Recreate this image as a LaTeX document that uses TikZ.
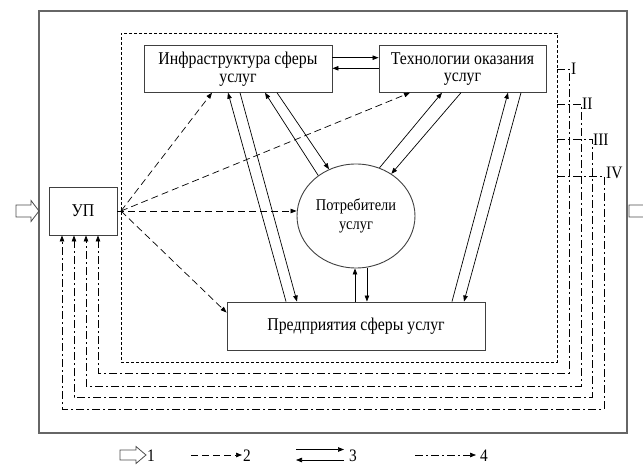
\documentclass[tikz,border=0pt]{standalone}
\usepackage{fontspec}
\setmainfont[FakeStretch=0.88]{Liberation Serif}
\usetikzlibrary{arrows.meta,shapes.geometric}
\begin{document}
\begin{tikzpicture}[x=1pt,y=-1pt,
  box/.style={draw=black!75, line width=0.9pt, inner sep=0pt, align=center, font=\fontsize{18}{17.7}\selectfont},
  link/.style={line width=0.7pt, -{Triangle[length=6pt,width=4.5pt]}},
  dlink/.style={link, dash pattern=on 7pt off 4pt},
  ddlink/.style={link, dash pattern=on 8pt off 3pt on 2pt off 3pt},
  hollow/.style={draw=black!70, line width=0.8pt},
  lbl/.style={font=\fontsize{17.5}{17}\selectfont, inner sep=0pt, anchor=west}
]
\useasboundingbox (0,0) rectangle (643,465);
\clip (0,0) rectangle (643,465);

% outer frame
\draw[draw=black!60, line width=1.2pt] (39,11) rectangle (627,433);
% inner dashed zone
\node[draw, dash pattern=on 3pt off 2pt, line width=0.7pt, minimum width=436pt, minimum height=329pt, inner sep=0pt] (zone) at (339,197.5) {};

% nodes
\node[box, minimum width=188pt, minimum height=46.5pt] (infra) at (238,69) {Инфраструктура сферы\\услуг};
\node[box, minimum width=167pt, minimum height=46.5pt] (tech) at (462.5,69) {Технологии оказания\\услуг};
\node[box, minimum width=68pt, minimum height=48pt] (up) at (83,211) {УП};
\node[box, ellipse, minimum width=118pt, minimum height=104pt, font=\fontsize{16.4}{18.4}\selectfont] (circ) at (356,216) {Потребители\\услуг};
\node[box, minimum width=258pt, minimum height=48pt] (ent) at (356,326) {Предприятия сферы услуг};

% solid two-way links
\draw[link] ([yshift=11.3pt]infra.east) -- ([yshift=11.3pt]tech.west);
\draw[link] ([yshift=0.7pt]tech.west) -- ([yshift=0.7pt]infra.east);
\draw[link] ([xshift=-70pt]ent.north) -- ([xshift=-10pt]infra.south);
\draw[link] ([xshift=2pt]infra.south) -- ([xshift=-59pt]ent.north);
\draw[link] (circ.133) -- ([xshift=27pt]infra.south);
\draw[link] ([xshift=39pt]infra.south) -- (circ.120);
\draw[link] (circ.64) -- ([xshift=-20.5pt]tech.south);
\draw[link] ([xshift=-1.5pt]tech.south) -- (circ.50);
\draw[link] ([xshift=96pt]ent.north) -- ([xshift=45.5pt]tech.south);
\draw[link] ([xshift=58.5pt]tech.south) -- ([xshift=108pt]ent.north);
\draw[link] ([xshift=-1pt]ent.north) -- ([xshift=-1pt]circ.south);
\draw[link] (circ.-78) -- (circ.-78 |- ent.north);

% dashed control links
\coordinate (fan) at (121,211);
\draw[dlink] (up.east) -- (circ.west |- up.east);
\draw[dlink] (fan) -- ([xshift=-26pt]infra.south);
\draw[dlink] (fan) -- ([xshift=-52.5pt]tech.south);
\draw[dlink] (fan) -- ([yshift=-11pt]ent.north west);

% feedback loops
\coordinate (sI) at (557,69);
\coordinate (sII) at (557,104);
\coordinate (sIII) at (557,139);
\coordinate (sIV) at (557,176);
\draw[ddlink] (sI) -| (569,373) -| ([xshift=15pt]up.south);
\draw[ddlink] (sII) -| (581,386) -| ([xshift=3pt]up.south);
\draw[ddlink] (sIII) -| (592,397) -| ([xshift=-9pt]up.south);
\draw[ddlink] (sIV) -| (604,409) -| ([xshift=-21pt]up.south);
\node[lbl] (lI) at (571,68.5) {I};
\node[lbl] (lII) at (582,103.5) {II};
\node[lbl] (lIII) at (593,139.5) {III};
\node[lbl] (lIV) at (606,172.5) {IV};

% input / output hollow arrows
\draw[hollow] (16,205) -- (31,205) -- (31,200.5) -- (39,211) -- (31,221.5) -- (31,217) -- (16,217) -- cycle;
\draw[hollow] (629,205) -- (660,205) -- (660,200.5) -- (668,211) -- (660,221.5) -- (660,217) -- (629,217) -- cycle;

% legend
\draw[hollow] (120,450) -- (136,450) -- (136,446.5) -- (146,455) -- (136,463.5) -- (136,460) -- (120,460) -- cycle;
\node[lbl] (k1) at (147,456) {1};
\draw[dlink] (191,455) -- (242,455);
\node[lbl] (k2) at (243,456) {2};
\draw[link] (296,449.5) -- (344,449.5);
\draw[link] (344,460) -- (296,460);
\node[lbl] (k3) at (349,456) {3};
\draw[ddlink] (415,455) -- (476,455);
\node[lbl] (k4) at (480,456) {4};
\end{tikzpicture}
\end{document}
